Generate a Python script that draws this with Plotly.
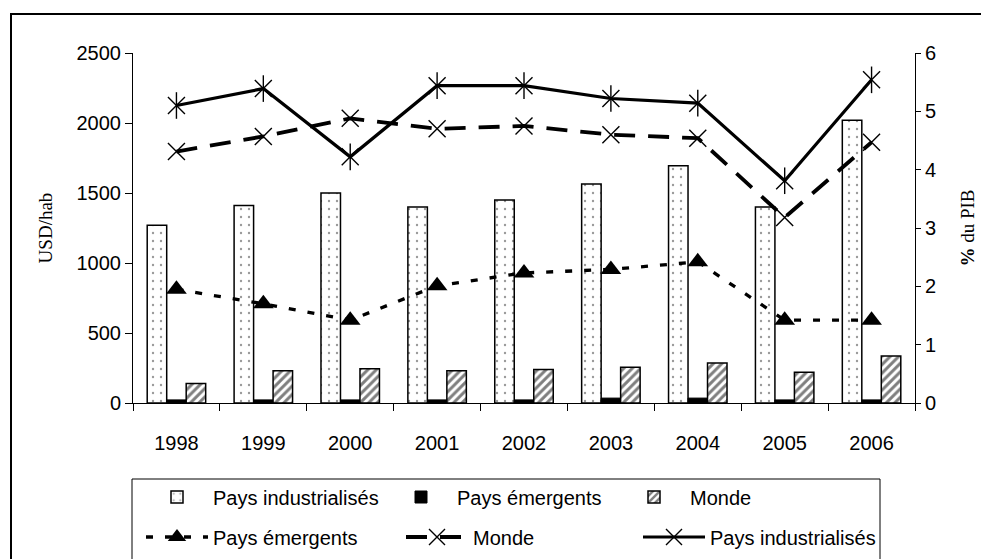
import plotly.graph_objects as go

years = ["1998", "1999", "2000", "2001", "2002", "2003", "2004", "2005", "2006"]

# USD / hab (bars, left axis)
ind_usd = [1270, 1410, 1500, 1400, 1450, 1565, 1695, 1400, 2020]
emer_usd = [22, 22, 22, 22, 22, 35, 35, 22, 22]
monde_usd = [140, 230, 245, 230, 240, 255, 285, 220, 335]

# % du PIB (lines, right axis)
emer_pib = [1.95, 1.70, 1.42, 2.01, 2.23, 2.29, 2.42, 1.42, 1.42]
monde_pib = [4.31, 4.57, 4.88, 4.70, 4.75, 4.60, 4.54, 3.18, 4.47]
ind_pib = [5.10, 5.39, 4.22, 5.44, 5.44, 5.22, 5.14, 3.81, 5.54]

OFF = 8  # page body margin
W, H = 989 - OFF, 559 - OFF
L, T = 133 - OFF, 53 - OFF
R = W - (915 - OFF)
B = H - (403 - OFF)
PW, PH = W - L - R, H - T - B

def px(xs):
    return (xs - OFF - L) / PW

def py(ys):
    return (H - B - (ys - OFF)) / PH

SANS = "Liberation Sans, Arial, sans-serif"
SERIF = "Liberation Serif, Times New Roman, serif"

fig = go.Figure()

fig.add_trace(go.Bar(
    x=years, y=ind_usd, name="Pays industrialisés", legend="legend",
    marker=dict(color="white", line=dict(color="black", width=1.5),
                pattern=dict(shape=".", size=8, solidity=0.07, fgcolor="#333", bgcolor="white")),
))
fig.add_trace(go.Bar(
    x=years, y=emer_usd, name="Pays émergents", legend="legend2",
    marker=dict(color="black", line=dict(color="black", width=1)),
))
fig.add_trace(go.Bar(
    x=years, y=monde_usd, name="Monde", legend="legend3",
    marker=dict(color="white", line=dict(color="black", width=1.5),
                pattern=dict(shape="/", size=6, solidity=0.5, fgcolor="black", bgcolor="white")),
))

fig.add_trace(go.Scatter(
    x=years, y=emer_pib, yaxis="y2", name="Pays émergents", legend="legend4",
    mode="lines+markers",
    line=dict(color="black", width=3.3, dash="7px,12px"),
    marker=dict(symbol="triangle-up", size=18, color="black"),
))
fig.add_trace(go.Scatter(
    x=years, y=monde_pib, yaxis="y2", name="Monde", legend="legend5",
    mode="lines+markers",
    line=dict(color="black", width=3.8, dash="21px,13px"),
    marker=dict(symbol="x-thin-open", size=17, color="black", line=dict(color="black", width=1.4)),
))
fig.add_trace(go.Scatter(
    x=years, y=ind_pib, yaxis="y2", name="Pays industrialisés", legend="legend6",
    mode="lines+markers",
    line=dict(color="black", width=3.2),
    marker=dict(symbol="x-thin-open", size=17, color="black", line=dict(color="black", width=1.4)),
))
fig.add_trace(go.Scatter(
    x=years, y=ind_pib, yaxis="y2", showlegend=False, hoverinfo="skip",
    mode="markers",
    marker=dict(symbol="line-ns-open", size=19, color="black", line=dict(color="black", width=1.4)),
))

leg_common = dict(orientation="h", xanchor="left", yanchor="middle",
                  font=dict(family=SANS, size=20, color="black"),
                  bgcolor="rgba(0,0,0,0)", borderwidth=0, itemwidth=62,
                  itemclick=False, itemdoubleclick=False)

row1 = py(497)
row2 = py(537)
TXT = 72  # legend left edge to text start

fig.update_layout(
    width=W, height=H,
    margin=dict(l=L, r=R, t=T, b=B, autoexpand=False),
    paper_bgcolor="white", plot_bgcolor="white",
    barmode="group", bargap=0.327, bargroupgap=0,
    showlegend=True,
    font=dict(family=SANS, size=20, color="black"),
    xaxis=dict(type="category", range=[-0.5, 8.5], tickson="boundaries", ticks="outside", ticklen=7,
               tickcolor="black", showline=True, linecolor="black", linewidth=1,
               showgrid=False, zeroline=False, ticklabelstandoff=22,
               tickfont=dict(family=SANS, size=20, color="black")),
    xaxis2=dict(overlaying="x", anchor="y", range=[-0.5, 8.5], tick0=-0.5, dtick=1,
                ticks="inside", ticklen=7, tickcolor="black", showticklabels=False,
                showline=False, showgrid=False, zeroline=False),
    yaxis=dict(range=[0, 2500], dtick=500, ticks="outside", ticklen=7, tickcolor="black",
               showline=True, linecolor="black", linewidth=1, showgrid=False, zeroline=False,
               tickfont=dict(family=SANS, size=20, color="black"),
               title=dict(text="USD/hab", font=dict(family=SERIF, size=19, color="black"), standoff=18)),
    yaxis2=dict(range=[0, 6], dtick=1, overlaying="y", side="right", ticks="outside", ticklen=5,
                tickcolor="black", showline=True, linecolor="black", linewidth=1,
                showgrid=False, zeroline=False,
                tickfont=dict(family=SANS, size=20, color="black"),
                title=dict(text="<b>%</b> du PIB", font=dict(family=SERIF, size=19, color="black"), standoff=25)),
    yaxis3=dict(range=[0, 6], dtick=1, overlaying="y", side="right", anchor="x", ticks="inside", ticklen=5,
                tickcolor="black", showticklabels=False, showline=False, showgrid=False, zeroline=False),
    legend=dict(x=px(213 - TXT), y=row1, **leg_common),
    legend2=dict(x=px(457 - TXT), y=row1, **leg_common),
    legend3=dict(x=px(690 - TXT), y=row1, **leg_common),
    legend4=dict(x=px(213 - TXT), y=row2, **leg_common),
    legend5=dict(x=px(473 - TXT), y=row2, **leg_common),
    legend6=dict(x=px(710 - TXT), y=row2, **leg_common),
    shapes=[
        dict(type="rect", xref="paper", yref="paper", x0=px(11), x1=px(983), y0=py(575), y1=py(14),
             line=dict(color="black", width=2), fillcolor="rgba(0,0,0,0)", layer="below"),
        dict(type="rect", xref="paper", yref="paper", x0=px(132), x1=px(880), y0=py(575), y1=py(479),
             line=dict(color="black", width=1), fillcolor="rgba(0,0,0,0)", layer="below"),
    ],
)

fig.write_html("out.html")
